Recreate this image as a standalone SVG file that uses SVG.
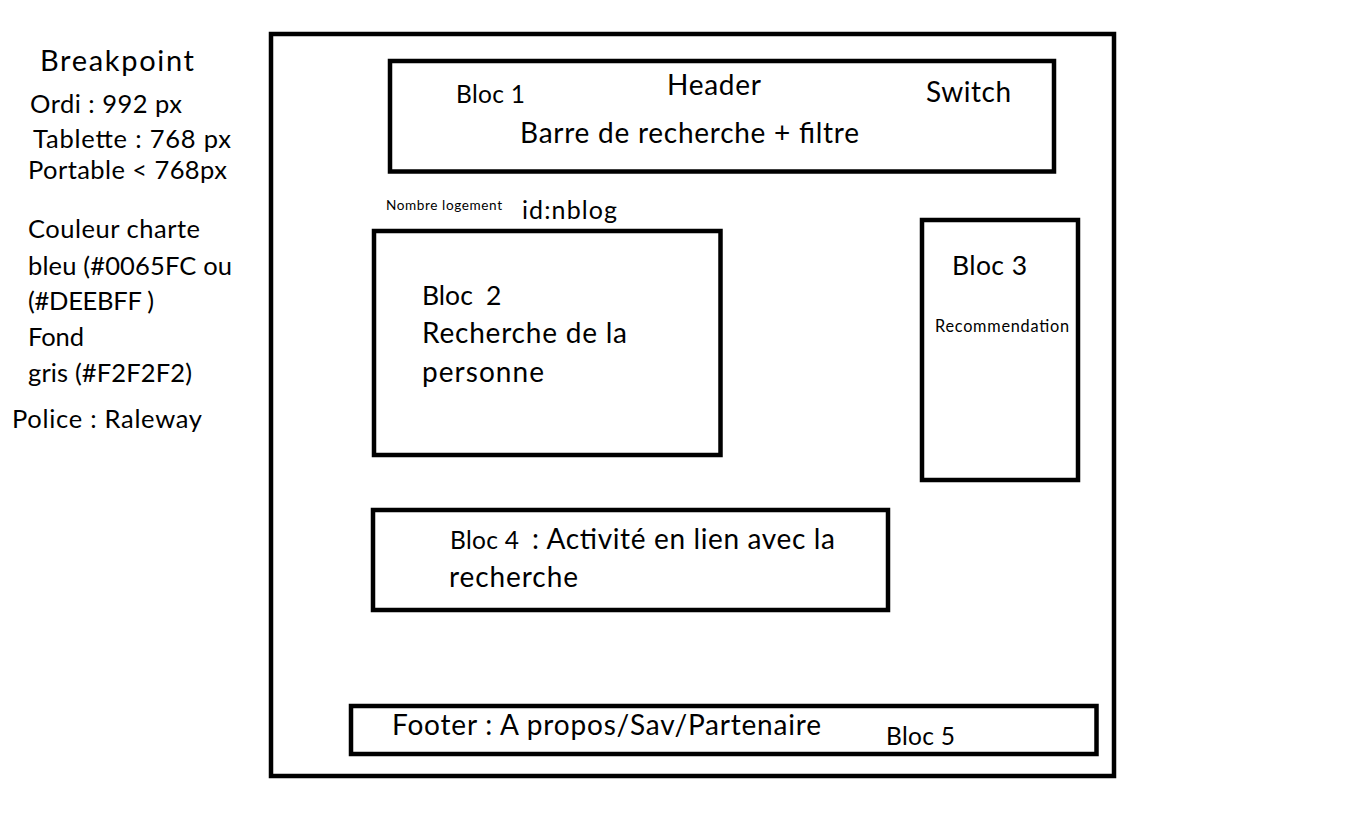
<svg xmlns="http://www.w3.org/2000/svg" width="1349" height="840" viewBox="0 0 1349 840">
<style>
  .box { fill: none; stroke: #000; stroke-width: 4.5; }
  text { font-family: Lato, "Open Sans", sans-serif; fill: #000; }
  .left { font-size: 25.5px; }
  .big { font-size: 28px; }
  .bloc { font-size: 24.5px; }
  .bloc2 { font-size: 26.5px; }
</style>
<rect width="1349" height="840" fill="#fff"/>
<g id="notes">
  <text x="40" y="71" font-size="29" textLength="154">Breakpoint</text>
  <text class="left" x="30" y="113" textLength="152">Ordi : 992 px</text>
  <text class="left" x="33" y="148" textLength="198">Tablette : 768 px</text>
  <text class="left" x="28" y="179" textLength="199">Portable &lt; 768px</text>
  <text class="left" x="28" y="238" textLength="172">Couleur charte</text>
  <text class="left" x="28" y="275" textLength="204">bleu (#0065FC ou</text>
  <text class="left" x="28" y="310" textLength="126">(#DEEBFF )</text>
  <text class="left" x="28" y="346" textLength="56">Fond</text>
  <text class="left" x="28" y="382" textLength="164">gris (#F2F2F2)</text>
  <text class="left" x="12" y="428" textLength="190">Police : Raleway</text>
</g>
<g id="page">
  <rect class="box" x="271" y="34" width="843" height="742"/>
</g>
<g id="bloc1">
  <rect class="box" x="390" y="61" width="664" height="110.5"/>
  <text class="bloc" x="456" y="103" textLength="69">Bloc 1</text>
  <text class="big" x="667" y="95" textLength="94">Header</text>
  <text class="big" x="520" y="143" textLength="339">Barre de recherche + filtre</text>
  <text class="big" x="926" y="102" textLength="85">Switch</text>
</g>
<g id="nblog">
  <text x="386" y="210" font-size="13.6" textLength="116">Nombre logement</text>
  <text x="522" y="219" font-size="25" textLength="95">id:nblog</text>
</g>
<g id="bloc2">
  <rect class="box" x="374" y="231" width="346.5" height="224"/>
  <text class="bloc2" x="422" y="305">Bloc <tspan x="486">2</tspan></text>
  <text class="big" x="422" y="343" textLength="205">Recherche de la</text>
  <text class="big" x="422" y="382" textLength="122">personne</text>
</g>
<g id="bloc3">
  <rect class="box" x="922" y="220" width="156" height="260"/>
  <text class="bloc2" x="952" y="275" textLength="75">Bloc 3</text>
  <text x="935" y="332" font-size="16.3" textLength="134">Recommendation</text>
</g>
<g id="bloc4">
  <rect class="box" x="373" y="510" width="515" height="100"/>
  <text class="bloc" x="450" y="549" textLength="69">Bloc 4</text>
  <text class="big" x="532" y="549" textLength="303">: Activité en lien avec la</text>
  <text class="big" x="449" y="587" textLength="129">recherche</text>
</g>
<g id="bloc5">
  <rect class="box" x="351" y="706" width="745.5" height="48"/>
  <text class="big" x="392" y="735" textLength="429">Footer : A propos/Sav/Partenaire</text>
  <text class="bloc" x="886" y="745" textLength="69">Bloc 5</text>
</g>
</svg>
